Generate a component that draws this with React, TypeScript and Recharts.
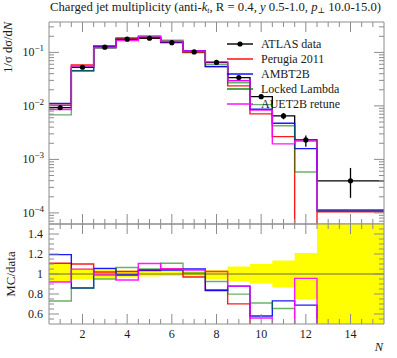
import React from "react";
import {
  Area,
  ComposedChart,
  ErrorBar,
  Legend,
  Line,
  ReferenceLine,
  Scatter,
  XAxis,
  YAxis,
} from "recharts";

// bin edges (last bin is wide: 12.5 - 15.5)
const binEdges = [0.5, 1.5, 2.5, 3.5, 4.5, 5.5, 6.5, 7.5, 8.5, 9.5, 10.5, 11.5, 12.5, 15.5];
const binCentres = [1, 2, 3, 4, 5, 6, 7, 8, 9, 10, 11, 12, 14];

const atlasData = [0.0093, 0.0528, 0.125, 0.177, 0.184, 0.152, 0.102, 0.065, 0.0338, 0.0149, 0.0065, 0.00231, 0.000398];
// relative uncertainties (down / up)
const atlasErrDown = [0.08, 0.055, 0.045, 0.03, 0.025, 0.02, 0.025, 0.05, 0.075, 0.095, 0.135, 0.25, 0.52];
const atlasErrUp = [0.107, 0.055, 0.04, 0.035, 0.04, 0.035, 0.025, 0.04, 0.075, 0.1, 0.135, 0.21, 0.74];

const perugia2011 = [0.0103, 0.0581, 0.1275, 0.1814, 0.1904, 0.1596, 0.0989, 0.0546, 0.0237, 0.0071, 0.00267, 0.00003, 0.000105];
const ambt2b = [0.0111, 0.0454, 0.1319, 0.1752, 0.1914, 0.1581, 0.1071, 0.0543, 0.0297, 0.00864, 0.00475, 0.00159, 0.000111];
const lockedLambda = [0.00679, 0.0454, 0.1188, 0.1885, 0.1932, 0.1683, 0.103, 0.0601, 0.027, 0.01058, 0.00426, 0.00058, 0.000109];
const auet2bRetune = [0.00856, 0.0554, 0.1238, 0.1664, 0.2033, 0.1596, 0.1061, 0.0666, 0.0297, 0.00834, 0.00195, 0.00221, 0.000115];

const xLabelTicks = [2, 4, 6, 8, 10, 12, 14];
const logLabelTicks = [1e-4, 1e-3, 1e-2, 1e-1];
const ratioLabelTicks = [0.6, 0.8, 1, 1.2, 1.4];

const W = 397;
const H = 358;
const LEFT = 49;
const RIGHT = 13;
const MAIN_TOP = 22;
const SPLIT = 224;
const RATIO_BOTTOM = 324;

const Y_MIN = 6.2e-5;
const Y_MAX = 0.37;

const FONT = '"Liberation Serif", "DejaVu Serif", serif';
const FRAME = "#8c8c8c";
const TEXT = "#1a1a1a";
const MAJOR = 10;
const MINOR = 5;

const mcSeries = [
  { key: "perugia", name: "Perugia 2011", color: "#ff0000", opacity: 0.9, values: perugia2011 },
  { key: "ambt2b", name: "AMBT2B", color: "#0000ff", opacity: 0.9, values: ambt2b },
  { key: "locked", name: "Locked Lambda", color: "#008000", opacity: 0.6, values: lockedLambda },
  { key: "auet2b", name: "AUET2B retune", color: "#ff00ff", opacity: 0.9, values: auet2bRetune },
];

const xTicks = Array.from({ length: 29 }, (_, i) => 1 + i * 0.5);
const logTicks = [-5, -4, -3, -2, -1, 0]
  .flatMap((e) => [1, 2, 3, 4, 5, 6, 7, 8, 9].map((k) => Number(`${k}e${e}`)))
  .filter((v) => v >= Y_MIN && v <= Y_MAX);
const ratioTicks = Array.from({ length: 19 }, (_, i) => Number((0.55 + i * 0.05).toFixed(2)));

const stepRows = binEdges.map((x, i) => {
  const j = Math.min(i, atlasData.length - 1);
  const row: Record<string, any> = {
    x,
    data: atlasData[j],
    band: [1 - atlasErrDown[j], 1 + atlasErrUp[j]],
  };
  mcSeries.forEach((s) => {
    row[s.key] = s.values[j];
    row[`r_${s.key}`] = s.values[j] / atlasData[j];
  });
  return row;
});

const dataPoints = binCentres.map((x, i) => ({
  x,
  y: atlasData[i],
  err: [atlasData[i] * atlasErrDown[i], atlasData[i] * atlasErrUp[i]],
}));

const isLabel = (list: number[], v: number) => list.some((t) => Math.abs(t - v) < 1e-9);

const LogTickLeft = ({ x, y, payload }: any) => {
  const v = payload.value;
  const major = isLabel(logLabelTicks, v);
  const exp = Math.round(Math.log10(v));
  return (
    <g>
      <line x1={x} x2={x + (major ? MAJOR : MINOR)} y1={y} y2={y} stroke={FRAME} />
      {major && (
        <text x={x - 5} y={y + 4} textAnchor="end" fontFamily={FONT} fontSize={12} fill={TEXT}>
          10
          <tspan dy={-5} fontSize={9}>
            {`\u2212${-exp}`}
          </tspan>
        </text>
      )}
    </g>
  );
};

const RatioTickLeft = ({ x, y, payload }: any) => {
  const v = payload.value;
  const major = isLabel(ratioLabelTicks, v);
  return (
    <g>
      <line x1={x} x2={x + (major ? MAJOR : MINOR)} y1={y} y2={y} stroke={FRAME} />
      {major && (
        <text x={x - 6} y={y + 4} textAnchor="end" fontFamily={FONT} fontSize={12} fill={TEXT}>
          {String(Number(v.toFixed(2)))}
        </text>
      )}
    </g>
  );
};

const makeRightTick = (labels: number[]) => ({ x, y, payload }: any) => {
  const major = isLabel(labels, payload.value);
  return <line x1={x} x2={x - (major ? MAJOR : MINOR)} y1={y} y2={y} stroke={FRAME} />;
};

const TopTick = ({ x, y, payload }: any) => {
  const major = isLabel(xLabelTicks, payload.value);
  return <line x1={x} x2={x} y1={y} y2={y + (major ? MAJOR : MINOR)} stroke={FRAME} />;
};

const makeBottomTick = (withLabels: boolean) => ({ x, y, payload }: any) => {
  const major = isLabel(xLabelTicks, payload.value);
  return (
    <g>
      <line x1={x} x2={x} y1={y} y2={y - (major ? MAJOR : MINOR)} stroke={FRAME} />
      {withLabels && major && (
        <text x={x} y={y + 14} textAnchor="middle" fontFamily={FONT} fontSize={12} fill={TEXT}>
          {payload.value}
        </text>
      )}
    </g>
  );
};

const LegendBox = () => (
  <svg width={170} height={80} style={{ display: "block" }}>
    {[{ name: "ATLAS data", color: "#000000", marker: true }, ...mcSeries].map((s: any, i) => {
      const y = 8 + i * 15;
      return (
        <g key={s.name}>
          <line x1={7} x2={33} y1={y} y2={y} stroke={s.color} strokeWidth={1.4} />
          {s.marker && <circle cx={20} cy={y} r={2.6} fill="#000" />}
          <text x={41} y={y + 4} fontFamily={FONT} fontSize={12} fill={TEXT}>
            {s.name}
          </text>
        </g>
      );
    })}
  </svg>
);

// axes get 1px of room (recharts skips axes with zero size)
const xAxisCommon = {
  type: "number" as const,
  dataKey: "x",
  domain: [0.5, 15.5],
  allowDataOverflow: true,
  ticks: xTicks,
  interval: 0 as const,
  tickSize: 0,
  tickMargin: 0,
  tickLine: false,
  axisLine: { stroke: FRAME },
  height: 1,
};

function MainPanel() {
  const yCommon = {
    scale: "log" as const,
    domain: [Y_MIN, Y_MAX],
    allowDataOverflow: true,
    ticks: logTicks,
    interval: 0 as const,
    tickSize: 0,
    tickMargin: 0,
    tickLine: false,
    axisLine: { stroke: FRAME },
    width: 1,
  };
  return (
    <ComposedChart
      width={W}
      height={H}
      data={stepRows}
      margin={{ top: MAIN_TOP - 1, right: RIGHT - 1, bottom: H - SPLIT - 1, left: LEFT - 1 }}
      style={{ position: "absolute", left: 0, top: 0 }}
    >
      <XAxis {...xAxisCommon} tick={makeBottomTick(false)} />
      <XAxis {...xAxisCommon} xAxisId="top" orientation="top" tick={TopTick} />
      <YAxis {...yCommon} tick={LogTickLeft} />
      <YAxis {...yCommon} yAxisId="right" orientation="right" tick={makeRightTick(logLabelTicks)} />
      <Line
        type="stepAfter"
        dataKey="data"
        stroke="#000"
        strokeWidth={1.3}
        dot={false}
        isAnimationActive={false}
      />
      {mcSeries.map((s) => (
        <Line
          key={s.key}
          type="stepAfter"
          dataKey={s.key}
          name={s.name}
          stroke={s.color}
          strokeOpacity={s.opacity}
          strokeWidth={1.4}
          dot={false}
          isAnimationActive={false}
        />
      ))}
      <Scatter
        data={dataPoints}
        dataKey="y"
        isAnimationActive={false}
        shape={(p: any) => <circle cx={p.cx} cy={p.cy} r={2.6} fill="#000" />}
      >
        <ErrorBar dataKey="err" direction="y" width={0} stroke="#000" strokeWidth={1.3} isAnimationActive={false} />
      </Scatter>
      <Legend
        layout="horizontal"
        verticalAlign="middle"
        align="center"
        content={() => <LegendBox />}
        wrapperStyle={{ left: 220, top: 36, width: 170, height: 80 }}
      />
    </ComposedChart>
  );
}

function RatioPanel() {
  const yCommon = {
    domain: [0.5, 1.5],
    allowDataOverflow: true,
    ticks: ratioTicks,
    interval: 0 as const,
    tickSize: 0,
    tickMargin: 0,
    tickLine: false,
    axisLine: { stroke: FRAME },
    width: 1,
  };
  return (
    <ComposedChart
      width={W}
      height={H}
      data={stepRows}
      margin={{ top: SPLIT - 1, right: RIGHT - 1, bottom: H - RATIO_BOTTOM - 1, left: LEFT - 1 }}
      style={{ position: "absolute", left: 0, top: 0 }}
    >
      <XAxis {...xAxisCommon} tick={makeBottomTick(true)} />
      <XAxis {...xAxisCommon} xAxisId="top" orientation="top" tick={TopTick} />
      <YAxis {...yCommon} type="number" tick={RatioTickLeft} />
      <YAxis {...yCommon} type="number" yAxisId="right" orientation="right" tick={makeRightTick(ratioLabelTicks)} />
      <Area
        type="stepAfter"
        dataKey="band"
        fill="#ffff00"
        fillOpacity={1}
        stroke="none"
        isAnimationActive={false}
      />
      <ReferenceLine y={1} stroke="#6b6b40" strokeWidth={1} />
      {mcSeries.map((s) => (
        <Line
          key={s.key}
          type="stepAfter"
          dataKey={`r_${s.key}`}
          stroke={s.color}
          strokeOpacity={s.opacity}
          strokeWidth={1.4}
          dot={false}
          isAnimationActive={false}
        />
      ))}
    </ComposedChart>
  );
}

export default function App() {
  return (
    <div style={{ position: "absolute", left: 0, top: 0, width: W, height: H, background: "#fff" }}>
      <MainPanel />
      <RatioPanel />
      <svg
        width={W}
        height={H}
        style={{ position: "absolute", left: 0, top: 0, pointerEvents: "none" }}
        fontFamily={FONT}
        fill={TEXT}
      >
        <text x={50} y={11} fontSize={12.7}>
          Charged jet multiplicity (anti-
          <tspan fontStyle="italic">k</tspan>
          <tspan fontStyle="italic" fontSize={8} dy={2}>t</tspan>
          <tspan dy={-2}>, R = 0.4, </tspan>
          <tspan fontStyle="italic">y</tspan>
          <tspan> 0.5-1.0, </tspan>
          <tspan fontStyle="italic">p</tspan>
          <tspan fontSize={8} dy={2}>{"\u22a5"}</tspan>
          <tspan dy={-2}> 10.0-15.0)</tspan>
        </text>
        <text x={-MAIN_TOP} y={11.5} transform="rotate(-90)" textAnchor="end" fontSize={12.5}>
          1/σ dσ/d<tspan fontStyle="italic">N</tspan>
        </text>
        <text x={-274} y={15} transform="rotate(-90)" textAnchor="middle" fontSize={13}>
          MC/data
        </text>
        <text x={383} y={351} textAnchor="end" fontStyle="italic" fontSize={12.5}>
          N
        </text>
      </svg>
    </div>
  );
}
